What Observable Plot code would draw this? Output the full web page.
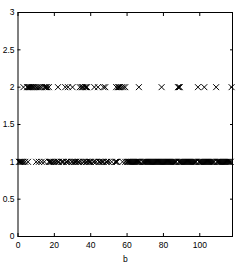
<!DOCTYPE html>
<html><head><meta charset="utf-8">
<script src="https://cdn.jsdelivr.net/npm/d3@7"></script>
<script src="https://cdn.jsdelivr.net/npm/@observablehq/plot@0.6"></script>
<style>body{margin:0;background:#fff}</style>
</head><body><div id="chart"></div>
<script>
const row1 = [0.5, 1, 1.5, 2, 2.5, 3, 4, 5.5,
  10, 11.5, 13, 14.5,
  17, 17.5, 18, 18.5, 19.5, 20, 21, 22, 22.5, 24, 24.5, 25, 26.5, 27, 28, 29.5, 30, 31, 31.5, 32, 33, 33.5, 34.5, 36, 36.5,
  37.5, 38, 39, 39.5, 40, 41.5, 42, 43, 44.5, 45, 46, 46.5, 47, 48.5, 49, 50, 51.5,
  53.5, 54, 54.5, 57.5, 59,
  60, 60.5, 61, 61.5, 62, 62.5, 63, 63.5, 64, 64.5, 65, 65.5, 66, 66.5, 67, 68.5, 69, 69.5, 70, 70.5, 71, 71.5, 72, 72.5,
  73, 73.5, 74, 74.5, 75, 75.5, 76, 76.5, 77, 77.5, 78, 78.5, 79, 79.5, 80, 80.5, 81, 81.5, 82, 82.5, 83, 83.5, 84, 84.5,
  85, 85.5, 86, 86.5, 87, 88.5, 89, 89.5, 90, 90.5, 91, 91.5, 92, 92.5, 93, 93.5, 94, 94.5, 95, 95.5, 96, 96.5, 97, 97.5,
  98, 99.5, 100, 100.5, 101, 101.5, 102, 102.5, 103, 103.5, 104, 104.5, 105, 105.5, 106, 106.5, 107, 107.5, 108, 109.5,
  110, 110.5, 111, 111.5, 112, 112.5, 113, 113.5, 114, 114.5, 115, 115.5, 116, 116.5, 117];
const row2 = [3, 5, 5.5, 6, 6.5, 7, 7.5, 8, 8.5, 9, 10, 11, 12, 13, 14.5, 15, 15.5, 16, 17, 22, 26, 27.5, 30, 34, 35, 35.5, 36, 37, 37.5, 38, 42, 44, 47, 48,
  54, 55, 55.5, 56, 57, 58, 59, 66.5, 79, 88, 88.5, 89, 99, 102.5, 109, 117.5];
const xTicks = [0, 20, 40, 60, 80, 100];
const yTicks = [0, 0.5, 1, 1.5, 2, 2.5, 3];
const data = [...row1.map(b => ({b, v: 1})), ...row2.map(b => ({b, v: 2}))];
const fmt = d => String(d);
const none = () => "";
const chart = Plot.plot({
  width: 242, height: 266,
  marginLeft: 17.5, marginRight: 10, marginTop: 12, marginBottom: 30,
  style: {fontFamily: "'Liberation Sans', Arial, sans-serif", fontSize: "8.5px", color: "#000", background: "#fff"},
  x: {domain: [0, 118]},
  y: {domain: [0, 3]},
  marks: [
    Plot.axisX(xTicks, {anchor: "bottom", tickSize: -3, tickPadding: 8, tickFormat: fmt, label: "b", labelAnchor: "center", labelArrow: "none", labelOffset: 25}),
    Plot.axisX(xTicks, {anchor: "top", tickSize: -3, tickFormat: none, label: null}),
    Plot.axisY(yTicks, {anchor: "left", tickSize: -3, tickPadding: 6.5, tickFormat: fmt, label: null}),
    Plot.axisY(yTicks, {anchor: "right", tickSize: -3, tickFormat: none, label: null}),
    Plot.dot(data, {x: "b", y: "v", symbol: "times", r: 2.8, stroke: "#000", strokeWidth: 1}),
    Plot.frame({stroke: "#000"})
  ]
});
document.getElementById("chart").append(chart);
</script>
</body></html>
